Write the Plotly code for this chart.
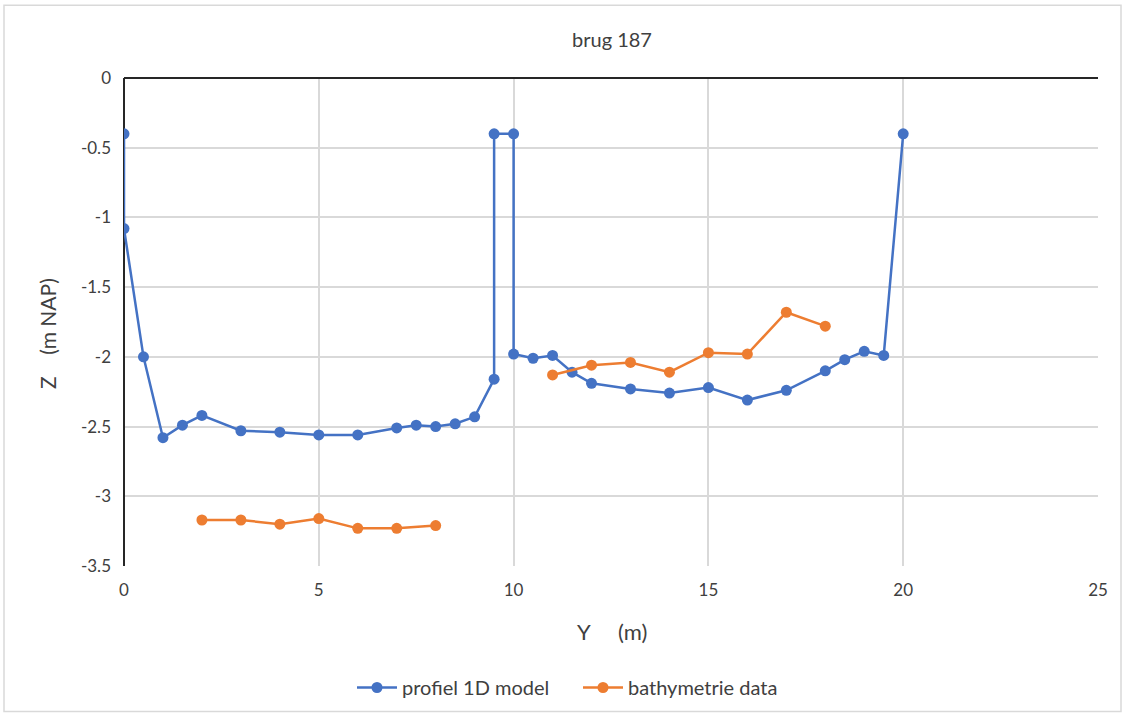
import plotly.graph_objects as go

# profiel 1D model
model_y = [0, 0, 0.5, 1, 1.5, 2, 3, 4, 5, 6, 7, 7.5, 8, 8.5, 9, 9.5, 9.5, 10, 10,
           10.5, 11, 11.5, 12, 13, 14, 15, 16, 17, 18, 18.5, 19, 19.5, 20]
model_z = [-0.40, -1.08, -2.00, -2.58, -2.49, -2.42, -2.53, -2.54, -2.56, -2.56, -2.51, -2.49,
           -2.50, -2.48, -2.43, -2.16, -0.40, -0.40, -1.98, -2.01, -1.99, -2.11, -2.19,
           -2.23, -2.26, -2.22, -2.31, -2.24, -2.10, -2.02, -1.96, -1.99, -0.40]

# bathymetrie data (gap between 8 and 11)
bathy_y = [2, 3, 4, 5, 6, 7, 8, 9, 10, 11, 12, 13, 14, 15, 16, 17, 18]
bathy_z = [-3.17, -3.17, -3.20, -3.16, -3.23, -3.23, -3.21, None, None,
           -2.13, -2.06, -2.04, -2.11, -1.97, -1.98, -1.68, -1.78]

x_ticks = [0, 5, 10, 15, 20, 25]
x_tick_labels = ["0", "5", "10", "15", "20", "25"]
y_ticks = [0, -0.5, -1, -1.5, -2, -2.5, -3, -3.5]
y_tick_labels = ["0", "-0.5", "-1", "-1.5", "-2", "-2.5", "-3", "-3.5"]

title = "brug 187"
x_title = "Y     (m)"
y_title = "Z    (m NAP)"

blue = "#4472C4"
orange = "#ED7D31"
font = "Lato, Open Sans, sans-serif"
txt = "#404040"

fig = go.Figure()
fig.add_trace(go.Scatter(x=model_y, y=model_z, mode="lines+markers", name="profiel 1D model",
                         line=dict(color=blue, width=2.5), marker=dict(color=blue, size=11)))
fig.add_trace(go.Scatter(x=bathy_y, y=bathy_z, mode="lines+markers", name="bathymetrie data",
                         line=dict(color=orange, width=2.5), marker=dict(color=orange, size=11),
                         connectgaps=False))

fig.update_layout(
    width=1126, height=719,
    margin=dict(l=124, r=28, t=78, b=151),
    paper_bgcolor="white", plot_bgcolor="white",
    font=dict(family=font, size=16, color=txt),
    title=dict(text=title, x=612 / 1126, xanchor="center", y=1 - 40 / 719, yanchor="middle",
               font=dict(family=font, size=20, color=txt)),
    showlegend=True,
    legend=dict(orientation="h", x=(352 - 124) / 974, xanchor="left",
                y=(568 - 690) / 490, yanchor="middle",
                font=dict(family=font, size=20, color=txt),
                itemwidth=40, entrywidth=171, entrywidthmode="pixels"),
    xaxis=dict(range=[0, 25], tickvals=x_ticks, ticktext=x_tick_labels,
               showgrid=True, gridcolor="#d9d9d9", gridwidth=1.5,
               zeroline=True, zerolinecolor="#262626", zerolinewidth=2, showline=False,
               ticks="", ticklabelstandoff=12, tickfont=dict(size=17, color=txt), fixedrange=True),
    yaxis=dict(range=[-3.5, 0], tickvals=y_ticks, ticktext=y_tick_labels,
               showgrid=True, gridcolor="#d9d9d9", gridwidth=1.5,
               zeroline=True, zerolinecolor="#262626", zerolinewidth=2, showline=False,
               ticks="", ticklabelstandoff=12, tickfont=dict(size=17, color=txt), fixedrange=True),
    annotations=[
        dict(text=x_title, xref="paper", yref="paper", x=(612 - 124) / 974, y=(568 - 634) / 490,
             xanchor="center", yanchor="middle", showarrow=False,
             font=dict(family=font, size=22, color=txt)),
        dict(text=y_title, xref="paper", yref="paper", x=(48 - 124) / 974, y=(568 - 335) / 490,
             xanchor="center", yanchor="middle", showarrow=False, textangle=-90,
             font=dict(family=font, size=21, color=txt)),
    ],
    shapes=[
        dict(type="rect", xref="paper", yref="paper",
             x0=(4 - 124) / 974, x1=(1121 - 124) / 974,
             y0=(568 - 714) / 490, y1=(568 - 5) / 490,
             line=dict(color="#d9d9d9", width=1.5), fillcolor="rgba(0,0,0,0)", layer="below"),
    ],
)

fig.write_html("out.html", config={"displayModeBar": False},
               post_script="document.body.style.margin='0px';")
